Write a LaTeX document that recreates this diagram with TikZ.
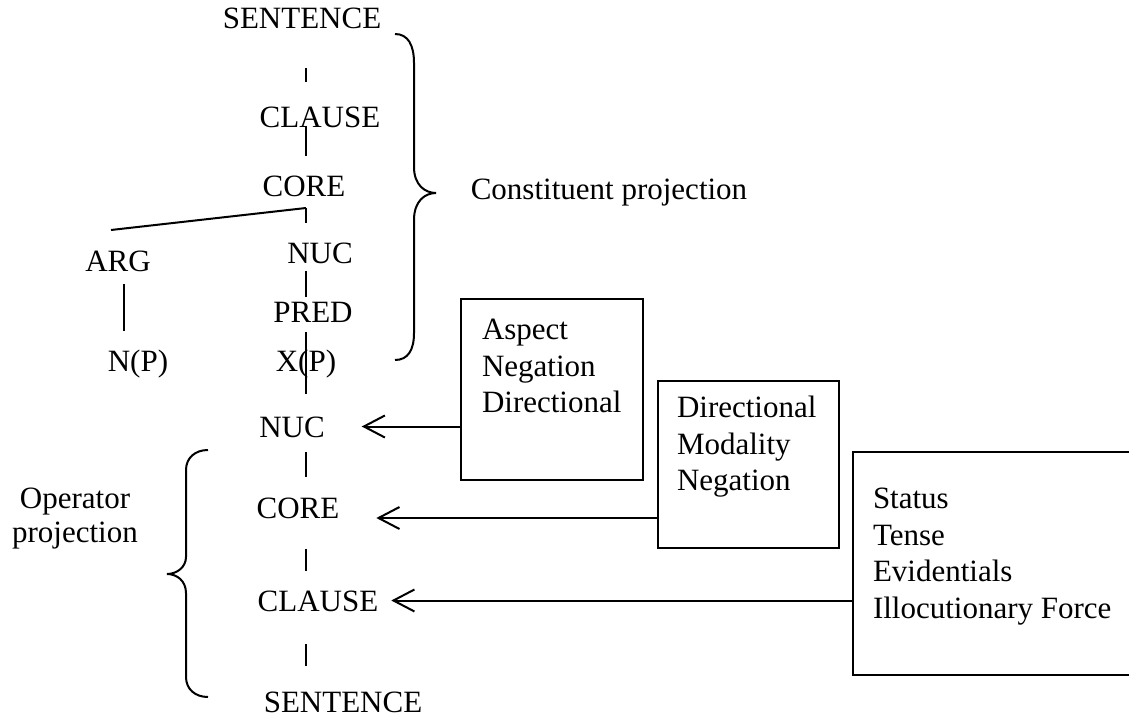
\documentclass[tikz,border=0pt]{standalone}
\usepackage{fontspec}
\setmainfont{Liberation Serif}
\usetikzlibrary{arrows.meta,calc}
\tikzset{
lbl/.style = {inner sep=0pt, text height=21pt, text depth=0pt, anchor=base},
opbox/.style = {draw, rectangle, inner sep=0pt, anchor=north west},
oplist/.style = {inner sep=0pt, align=left, anchor=north west},
opline/.style = {->}
}
\begin{document}
\begin{tikzpicture}[x=1pt, y=-1pt, line width=2pt, >={Straight Barb[length=21pt,width=22pt]}, font=\fontsize{31}{36.7}\selectfont]
   \useasboundingbox (0,0) rectangle (1129,719);
   \clip (0,0) rectangle (1129,719);
   \coordinate (spine) at (306,0);
   % constituent projection
   \node [lbl] (s1) at (302,29) {SENTENCE};
   \node [lbl] (cl1) at (320,128) {CLAUSE};
   \node [lbl] (co1) at (304,197) {CORE};
   \node [lbl] (arg) at (118,272) {ARG};
   \node [lbl] (nuc1) at (320,263) {NUC};
   \node [lbl] (pred) at (313,322) {PRED};
   \node [lbl] (np) at (138,371) {N(P)};
   \node [lbl] (xp) at (306,371) {X(P)};
   % operator projection
   \node [lbl] (nuc2) at (292,437) {NUC};
   \node [lbl] (co2) at (298,518) {CORE};
   \node [lbl] (cl2) at (318,611) {CLAUSE};
   \node [lbl] (s2) at (343,712) {SENTENCE};

   \draw [shorten <=38pt, shorten >=24pt] (s1.south -| spine) -- (cl1.north -| spine);
   \draw [shorten <=-3pt, shorten >=19pt] (cl1.south -| spine) -- (co1.north -| spine);
   \coordinate (fork) at ($(co1.south -| spine)+(0,10)$);
   \draw [shorten >=18pt] (fork) -- (nuc1.north -| spine);
   \draw (fork) -- ($(arg.north)+(-7,-20)$);
   \draw [shorten <=11pt, shorten >=18pt] ([xshift=6pt]arg.south) -- ([xshift=6pt]arg.south |- np.north);
   \draw [shorten <=7pt, shorten >=3pt] (nuc1.south -| spine) -- (pred.north -| spine);
   \draw [shorten <=9pt, shorten >=21pt] (pred.south -| spine) -- (nuc2.north -| spine);
   \draw [shorten <=14pt, shorten >=19pt] (nuc2.south -| spine) -- (co2.north -| spine);
   \draw [shorten <=30pt, shorten >=18pt] (co2.south -| spine) -- (cl2.north -| spine);
   \draw [shorten <=32pt, shorten >=24pt] (cl2.south -| spine) -- (s2.north -| spine);

   % operator boxes
   \node [opbox, minimum width=182pt, minimum height=181pt] (b1) at (460,298) {};
   \node [opbox, minimum width=181pt, minimum height=167pt] (b2) at (657,380) {};
   \node [opbox, minimum width=330pt, minimum height=223pt] (b3) at (852,451) {};
   \node [oplist] (l1) at ([shift={(21pt,-20pt)}]b1.north west) {Aspect\\Negation\\Directional};
   \node [oplist] (l2) at ([shift={(19pt,-15pt)}]b2.north west) {Directional\\Modality\\Negation};
   \node [oplist] (l3) at ([shift={(20pt,-36pt)}]b3.north west) {Status\\Tense\\Evidentials\\Illocutionary Force};

   \draw [opline, shorten >=36pt] (nuc2.east -| b1.west) -- (nuc2.east);
   \draw [opline, shorten >=36pt] (co2.base east -| b2.west) -- (co2.base east);
   \draw [opline, shorten >=12pt] (cl2.east -| b3.west) -- (cl2.east);

   % braces
   \draw (395,34) .. controls (408,34) and (414,45) .. (414,63) -- (414,167)
     .. controls (414,185) and (425,193) .. (436,193)
     .. controls (425,193) and (414,201) .. (414,220) -- (414,333)
     .. controls (414,350) and (408,360) .. (395,360);
   \draw (208,450) .. controls (195,450) and (186,458) .. (186,470) -- (186,557)
     .. controls (186,567) and (177,574) .. (167,574)
     .. controls (177,574) and (186,581) .. (186,593) -- (186,677)
     .. controls (186,689) and (195,697) .. (208,697);
   \node [lbl] (cp) at (609,200) {Constituent projection};
   \node [align=center, inner sep=0pt, anchor=north, font=\fontsize{31}{34}\selectfont] (op) at (75,487) {Operator\\projection};
\end{tikzpicture}
\end{document}
